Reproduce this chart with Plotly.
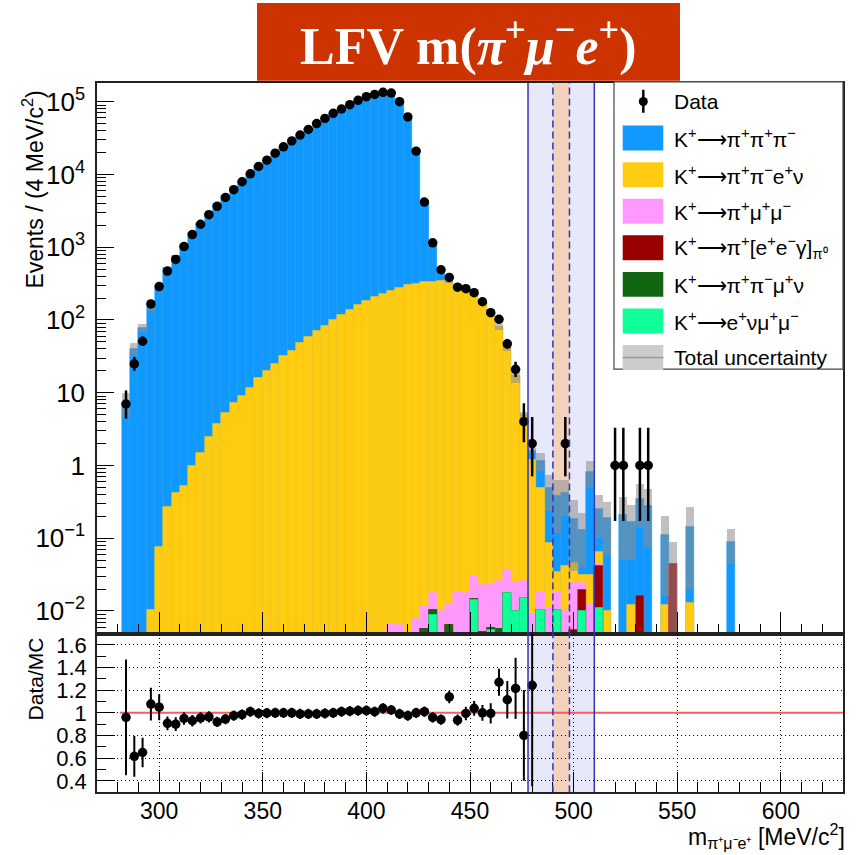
import math
import plotly.graph_objects as go

W, H = 859, 855

# ---------------------------------------------------------------- data
# bin centres of m(pi+ mu- e+) [MeV/c^2], 4 MeV wide bins
bin_centers = [284, 288, 292, 296, 300, 304, 308, 312, 316, 320,
               324, 328, 332, 336, 340, 344, 348, 352, 356, 360,
               364, 368, 372, 376, 380, 384, 388, 392, 396, 400,
               404, 408, 412, 416, 420, 424, 428, 432, 436, 440,
               444, 448, 452, 456, 460, 464, 468, 472, 476, 480,
               484, 488, 492, 496, 500, 504, 508, 512, 516, 520,
               524, 528, 532, 536, 540, 544, 548, 552, 556, 560,
               564, 568, 572, 576]

data_counts = [7, 25, 51, 166, 288, 470, 680, 1020, 1490, 2070,
               2800, 3650, 4840, 6170, 7940, 10200, 12900, 15700, 19600, 24000,
               28900, 34800, 41500, 50000, 58900, 69200, 79400, 91200, 104700, 117500,
               125900, 134900, 131800, 100000, 61700, 20900, 4170, 1150, 490, 385,
               282, 269, 237, 178, 126, 102, 47, 21, 4, 2,
               0, 0, 0, 2, 0, 0, 0, 0, 0, 1,
               1, 0, 1, 1, 0, 0, 0, 0, 0, 0,
               0, 0, 0, 0]

mc_k3pi = [7.29, 40.58, 78.46, 154.1, 274.2, 517.9, 755.1, 1073.2, 1601, 2166,
           2899, 3964, 5116, 6321, 8052, 10087, 12949, 15711, 19575, 23968,
           28862, 35104, 41861, 50435, 59112, 69100, 78496, 89714, 102487, 115014,
           124448, 129482, 128330, 100732, 62982, 20582, 3797, 858, 179, 15.7,
           1.6, 2.4, 1.9, 1.0, 0.6, 0.5, 0.3, 0.25, 0.07, 0.41,
           0.66, 0.40, 0.345, 0.38, 0.14, 0.10, 0.80, 0.184, 0.18, 0,
           0.21, 0.158, 0.334, 0.275, 0, 0.098, 0, 0, 0.132, 0,
           0, 0, 0, 0.09]

mc_kpipienu = [0, 0, 0, 0.0105, 0.076, 0.27, 0.42, 0.52, 1.0, 1.5,
               2.5, 3.7, 5.3, 7.3, 9.1, 11.7, 16.1, 20, 25, 32,
               38, 48, 58, 70, 84, 100, 118, 138, 160, 182,
               205, 230, 255, 278, 300, 318, 332, 340, 342, 322,
               300, 268, 226, 177, 126, 79.8, 41.8, 17.0, 4.9, 1.19,
               0.48, 0.076, 0.016, 0.032, 0.0215, 0.0065, 0.019, 0.022, 0.010, 0,
               0, 0.012, 0, 0, 0, 0.012, 0, 0, 0.013, 0,
               0, 0, 0, 0]

mc_kpimumu = [0, 0, 0, 0, 0, 0, 0, 0, 0, 0,
              0, 0, 0, 0, 0, 0, 0, 0, 0, 0,
              0, 0, 0, 0, 0, 0, 0, 0, 0, 0,
              0, 0, 0.0067, 0.0065, 0, 0.0077, 0.0060, 0.0072, 0.0100, 0.0061,
              0.0186, 0.0177, 0.016, 0.0177, 0.0179, 0.0201, 0.0194, 0.0151, 0.0105, 0.009,
              0.0081, 0.011, 0.0083, 0.010, 0.019, 0.0051, 0.012, 0.002, 0, 0,
              0, 0, 0, 0, 0, 0, 0, 0, 0, 0,
              0, 0, 0, 0]

mc_kpieeg = [0, 0, 0, 0, 0, 0, 0, 0, 0, 0,
             0, 0, 0, 0, 0, 0, 0, 0, 0, 0,
             0, 0, 0, 0, 0, 0, 0, 0, 0, 0,
             0, 0, 0, 0, 0, 0, 0, 0, 0, 0,
             0, 0, 0, 0, 0, 0, 0, 0, 0, 0,
             0, 0, 0, 0, 0.0055, 0.0094, 0, 0.031, 0, 0,
             0, 0, 0.016, 0, 0, 0, 0.045, 0, 0, 0,
             0, 0, 0, 0]

mc_kpipimunu = [0, 0, 0, 0, 0, 0, 0, 0, 0, 0,
                0, 0, 0, 0, 0, 0, 0, 0, 0, 0,
                0, 0, 0, 0, 0, 0, 0, 0, 0, 0,
                0, 0, 0, 0, 0, 0, 0.0057, 0.0015, 0, 0.0065,
                0, 0, 0.0008, 0.0052, 0.0003, 0.0057, 0.0003, 0, 0, 0,
                0, 0, 0, 0, 0, 0, 0, 0, 0, 0,
                0, 0, 0, 0, 0, 0, 0, 0, 0, 0,
                0, 0, 0, 0]

mc_kenumumu = [0, 0, 0, 0, 0, 0, 0, 0, 0, 0,
               0, 0, 0, 0, 0, 0, 0, 0, 0, 0,
               0, 0, 0, 0, 0, 0, 0, 0, 0, 0,
               0, 0, 0, 0, 0, 0, 0, 0.0088, 0, 0,
               0, 0, 0.0141, 0, 0.0055, 0, 0.0175, 0.0100, 0.0153, 0,
               0.0105, 0, 0.0103, 0, 0, 0.0100, 0, 0.011, 0, 0,
               0, 0, 0, 0, 0, 0, 0, 0, 0, 0,
               0, 0, 0, 0]

# absolute total MC uncertainty per bin
mc_uncert = [2.8, 8, 10, 19, 14, 20, 26, 35, 50, 65,
             85, 115, 150, 180, 230, 290, 370, 450, 560, 680,
             820, 1000, 1200, 1450, 1700, 2000, 2250, 2600, 2950, 3300,
             3600, 3750, 3700, 2900, 1800, 600, 120, 30, 18, 14,
             14, 14, 13, 11, 10, 8, 5, 3.5, 0.55, 0.13,
             0.32, 0.25, 0.26, 0.22, 0.15, 0.09, 0.34, 0.15, 0.13, 0,
             0.16, 0.12, 0.21, 0.2, 0, 0.094, 0.043, 0, 0.125, 0,
             0, 0, 0, 0.045]

# uncertainty on Data/MC for the bins shown in the ratio panel (284-480)
ratio_err = [0.51, 0.18, 0.13, 0.145, 0.115, 0.06, 0.06, 0.055, 0.05, 0.05,
             0.05, 0.045, 0.045, 0.045, 0.045, 0.045, 0.045, 0.045, 0.045, 0.045,
             0.045, 0.045, 0.045, 0.045, 0.045, 0.045, 0.045, 0.045, 0.045, 0.045,
             0.045, 0.045, 0.045, 0.045, 0.045, 0.045, 0.045, 0.045, 0.045, 0.055,
             0.05, 0.06, 0.065, 0.07, 0.09, 0.12, 0.165, 0.27, 0.40, 0.89]

# signal / control windows [MeV/c^2]
outer_window = (478, 510)
inner_window = (490, 498)

y_major = [1e-2, 1e-1, 1, 10, 1e2, 1e3, 1e4, 1e5]
y_major_text = ["10<sup>\u22122</sup>", "10<sup>\u22121</sup>", "1", "10",
                "10<sup>2</sup>", "10<sup>3</sup>", "10<sup>4</sup>", "10<sup>5</sup>"]
r_major = [0.4, 0.6, 0.8, 1.0, 1.2, 1.4, 1.6]
r_major_text = ["0.4", "0.6", "0.8", "1", "1.2", "1.4", "1.6"]

# ---------------------------------------------------------------- styles
C_K3PI = "#1199ff"
C_PIPIENU = "#ffcc11"
C_PIMUMU = "#ff99ff"
C_PIEEG = "#990000"
C_PIPIMUNU = "#116611"
C_ENUMUMU = "#11ff99"
C_BAND = "rgba(140,140,140,0.55)"
FONT = "Liberation Sans, Arial, Helvetica, sans-serif"
ARROW = "\u27f6"


def poisson_cdf(n, mu):
    term = math.exp(-mu)
    s = term
    for k in range(1, n + 1):
        term *= mu / k
        s += term
    return s


def garwood(n, alpha=0.158655):
    """68% Poisson interval for n observed events."""
    if n > 100:
        r = math.sqrt(n)
        return n - r, n + r
    a, b = float(n), n + 10 * math.sqrt(n) + 10
    for _ in range(80):
        mid = 0.5 * (a + b)
        if poisson_cdf(n, mid) > alpha:
            a = mid
        else:
            b = mid
    hi = 0.5 * (a + b)
    if n == 0:
        return 0.0, hi
    a, b = 0.0, float(n)
    for _ in range(80):
        mid = 0.5 * (a + b)
        if poisson_cdf(n - 1, mid) > 1 - alpha:
            a = mid
        else:
            b = mid
    return 0.5 * (a + b), hi


nb = len(bin_centers)
# stack from the bottom: e nu mu mu, pi pi mu nu, pi [ee gamma], pi mu mu, pi pi e nu, 3pi
layers = [(mc_kenumumu, C_ENUMUMU), (mc_kpipimunu, C_PIPIMUNU), (mc_kpieeg, C_PIEEG),
          (mc_kpimumu, C_PIMUMU), (mc_kpipienu, C_PIPIENU), (mc_k3pi, C_K3PI)]
cum = []
running = [0.0] * nb
for vals, col in layers:
    running = [running[i] + vals[i] for i in range(nb)]
    cum.append((list(running), col))
mc_total = cum[-1][0]

fig = go.Figure()

# stacked histogram, drawn from the top layer down
for tops, col in reversed(cum):
    fig.add_trace(go.Bar(
        x=bin_centers, y=[t if t > 0 else None for t in tops], width=4,
        marker=dict(color=col, line=dict(color=col, width=0.5)),
        xaxis="x", yaxis="y", hoverinfo="skip"))

# total uncertainty band
band_x, band_base, band_h = [], [], []
for i in range(nb):
    if mc_total[i] > 0 and mc_uncert[i] > 0:
        lo = max(mc_total[i] - mc_uncert[i], 1e-4)
        hi = mc_total[i] + mc_uncert[i]
        band_x.append(bin_centers[i])
        band_base.append(lo)
        band_h.append(hi - lo)
fig.add_trace(go.Bar(x=band_x, y=band_h, base=band_base, width=4,
                     marker=dict(color=C_BAND, line=dict(width=0)),
                     xaxis="x", yaxis="y", hoverinfo="skip"))

# data points with Poisson intervals
dx, dy, eup, edn = [], [], [], []
for m, n in zip(bin_centers, data_counts):
    if n > 0:
        lo, hi = garwood(n)
        dx.append(m)
        dy.append(n)
        eup.append(hi - n)
        edn.append(n - lo)
fig.add_trace(go.Scatter(
    x=dx, y=dy, mode="markers", xaxis="x", yaxis="y",
    marker=dict(color="black", size=9.5),
    error_y=dict(type="data", array=eup, arrayminus=edn, symmetric=False,
                 color="black", thickness=2.5, width=0),
    hoverinfo="skip"))

# Data/MC ratio
rx, ry = [], []
for i in range(len(ratio_err)):
    rx.append(bin_centers[i])
    ry.append(data_counts[i] / mc_total[i])
fig.add_trace(go.Scatter(
    x=rx, y=ry, mode="markers", xaxis="x2", yaxis="y2",
    marker=dict(color="black", size=9.5),
    error_y=dict(type="data", array=ratio_err, color="black", thickness=2, width=0),
    hoverinfo="skip"))

# ---------------------------------------------------------------- windows
for xr, yr in (("x", "y domain"), ("x2", "y2 domain")):
    fig.add_shape(type="rect", xref=xr, yref=yr, x0=outer_window[0], x1=outer_window[1],
                  y0=0, y1=1, fillcolor="#e8e8fb", line=dict(width=0), layer="below")
    fig.add_shape(type="rect", xref=xr, yref=yr, x0=inner_window[0], x1=inner_window[1],
                  y0=0, y1=1, fillcolor="#f2d2bd", line=dict(width=0), layer="below")
    for xv in outer_window:
        fig.add_shape(type="line", xref=xr, yref=yr, x0=xv, x1=xv, y0=0, y1=1,
                      line=dict(color="#3434b4", width=1.5), layer="above")
    for xv in inner_window:
        fig.add_shape(type="line", xref=xr, yref=yr, x0=xv, x1=xv, y0=0, y1=1,
                      line=dict(color="#3434b4", width=1.5, dash="7px,4px"), layer="above")

# unity line in the ratio panel
fig.add_shape(type="line", xref="x2", yref="y2", x0=281, x1=630, y0=1, y1=1,
              line=dict(color="#ff5a5a", width=2), layer="between")

# ---------------------------------------------------------------- axes
XD = [97 / W, 843 / W]
YMAIN = [1 - 634 / H, 1 - 82 / H]
YRAT = [1 - 793 / H, 1 - 634 / H]
minor_log = [k * 10 ** d for d in range(-3, 6) for k in range(2, 10)]
frame = dict(showline=True, linecolor="#222", linewidth=1.5, mirror=True, zeroline=False)

fig.update_layout(
    width=W, height=H, margin=dict(l=0, r=0, t=0, b=0),
    paper_bgcolor="white", plot_bgcolor="rgba(0,0,0,0)",
    showlegend=False, barmode="overlay", bargap=0,
    font=dict(family=FONT, color="black"),
    xaxis=dict(domain=XD, range=[270, 630], anchor="y", showticklabels=False,
               ticks="inside", ticklen=22, tickwidth=1.2, tickcolor="black",
               tick0=300, dtick=50, showgrid=False,
               minor=dict(ticks="inside", ticklen=10, tickcolor="black", tick0=300, dtick=10,
                          showgrid=False), **frame),
    yaxis=dict(domain=YMAIN, type="log", range=[-2.31, 5.26], anchor="x",
               tickmode="array", tickvals=y_major, ticktext=y_major_text,
               ticks="inside", ticklen=17, tickwidth=1.2, tickcolor="black",
               tickfont=dict(size=26, family=FONT), ticklabelstandoff=5, showgrid=False,
               minor=dict(tickmode="array", tickvals=minor_log, ticks="inside", ticklen=9,
                          tickcolor="black", showgrid=False), **frame),
    xaxis2=dict(domain=XD, range=[270, 630], anchor="y2",
                ticks="inside", ticklen=20, tickwidth=1.2, tickcolor="black",
                tick0=300, dtick=50, tickfont=dict(size=23, family=FONT),
                ticklabelstandoff=-2,
                showgrid=True, gridcolor="black", griddash="1px,3px", gridwidth=1,
                minor=dict(ticks="inside", ticklen=10, tickcolor="black", tick0=300, dtick=10,
                           showgrid=False), **frame),
    yaxis2=dict(domain=YRAT, range=[0.3, 1.7], anchor="x2",
                tickmode="array", tickvals=r_major, ticktext=r_major_text,
                ticks="inside", ticklen=18, tickwidth=1.2, tickcolor="black",
                tickfont=dict(size=22, family=FONT), ticklabelstandoff=4,
                showgrid=True, gridcolor="black", griddash="1px,3px", gridwidth=1,
                minor=dict(ticks="inside", ticklen=9, tickcolor="black", dtick=0.1, tick0=0.3,
                           showgrid=False), **frame),
)


def ann(text, x, y, size, xanchor="center", yanchor="middle", angle=0,
        family=FONT, color="black"):
    fig.add_annotation(x=x / W, y=1 - y / H, xref="paper", yref="paper", text=text,
                       showarrow=False, xanchor=xanchor, yanchor=yanchor, textangle=angle,
                       font=dict(size=size, family=family, color=color))


def prect(x0, y0, x1, y1, **kw):
    fig.add_shape(type="rect", xref="paper", yref="paper",
                  x0=x0 / W, x1=x1 / W, y0=1 - y1 / H, y1=1 - y0 / H, **kw)


# axis titles
ann("Events / (4 MeV/c<sup>2</sup>)", 33, 189, 23, angle=-90)
ann("Data/MC", 35, 680, 21, angle=-90)
ann("m<sub>\u03c0\u207a\u03bc\u207be\u207a</sub> [MeV/c<sup>2</sup>]", 847, 855, 23,
    xanchor="right", yanchor="bottom")

# title banner
prect(257, 2, 680, 80, fillcolor="#cc3300", line=dict(width=0))
ann("<b>LFV m(<i>\u03c0</i><sup>+</sup><i>\u03bc</i><sup>\u2212</sup><i>e</i><sup>+</sup>)</b>",
    468, 42, 52, family="Liberation Serif, Times New Roman, serif", color="white")

# legend
prect(614, 81, 843, 369, fillcolor="white", line=dict(color="#444", width=1.2))
row0, step = 100.7, 36.67
fig.add_shape(type="line", xref="paper", yref="paper", x0=643.3 / W, x1=643.3 / W,
              y0=1 - 112 / H, y1=1 - 89 / H, line=dict(color="black", width=2.5))
fig.add_shape(type="circle", xref="paper", yref="paper", x0=638.8 / W, x1=647.8 / W,
              y0=1 - 105.2 / H, y1=1 - 96.2 / H, fillcolor="black", line=dict(width=0))
ann("Data", 671.7, row0, 21, xanchor="left")
legend_rows = [
    (C_K3PI, "K<sup>+</sup>" + ARROW + "\u03c0<sup>+</sup>\u03c0<sup>+</sup>\u03c0<sup>\u2212</sup>"),
    (C_PIPIENU, "K<sup>+</sup>" + ARROW + "\u03c0<sup>+</sup>\u03c0<sup>\u2212</sup>e<sup>+</sup>\u03bd"),
    (C_PIMUMU, "K<sup>+</sup>" + ARROW + "\u03c0<sup>+</sup>\u03bc<sup>+</sup>\u03bc<sup>\u2212</sup>"),
    (C_PIEEG, "K<sup>+</sup>" + ARROW + "\u03c0<sup>+</sup>[e<sup>+</sup>e<sup>\u2212</sup>\u03b3]<sub>\u03c0\u2070</sub>"),
    (C_PIPIMUNU, "K<sup>+</sup>" + ARROW + "\u03c0<sup>+</sup>\u03c0<sup>\u2212</sup>\u03bc<sup>+</sup>\u03bd"),
    (C_ENUMUMU, "K<sup>+</sup>" + ARROW + "e<sup>+</sup>\u03bd\u03bc<sup>+</sup>\u03bc<sup>\u2212</sup>"),
]
for k, (col, label) in enumerate(legend_rows, start=1):
    yc = row0 + step * k
    prect(622.7, yc - 12.5, 663.3, yc + 12.5, fillcolor=col, line=dict(width=0))
    ann(label, 671.7, yc, 21, xanchor="left")
yc = row0 + step * 7
prect(622.7, yc - 12.5, 663.3, yc + 12.5, fillcolor="#cccccc", line=dict(width=0))
fig.add_shape(type="line", xref="paper", yref="paper", x0=622.7 / W, x1=663.3 / W,
              y0=1 - yc / H, y1=1 - yc / H, line=dict(color="#999999", width=1.5))
ann("Total uncertainty", 671.7, yc, 21, xanchor="left")

fig.write_html("out.html")
